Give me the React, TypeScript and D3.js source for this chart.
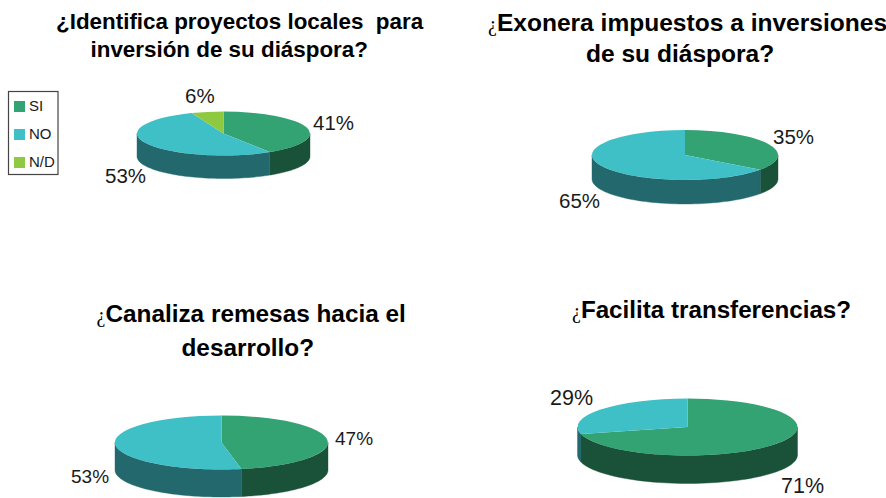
import React from "react";
import * as d3 from "d3";

const categories = ["SI", "NO", "N/D"];

const valuesA = [41, 53, 6];
const valuesB = [35, 65];
const valuesC = [47, 53];
const valuesD = [71, 29];

const titleA = ["¿Identifica proyectos locales  para", "inversión de su diáspora?"];
const titleB = ["¿Exonera impuestos a inversiones", "de su diáspora?"];
const titleC = ["¿Canaliza remesas hacia el", "desarrollo?"];
const titleD = ["¿Facilita transferencias?"];

const topColors = ["#33A374", "#3FC0C6", "#8FC942"];
const sideColors = ["#195238", "#22686C", "#4A6E20"];

const charts = [
  {
    values: valuesA, title: titleA, cx: 223.5, cy: 133.5, rx: 86.5, ry: 22, depth: 23,
    labelSize: 20.5, labelPos: [[313, 130], [105, 183], [185, 103]],
    titleSize: 22.4, titlePos: [[56, 29], [90.5, 56.5]], boldQuestion: true,
  },
  {
    values: valuesB, title: titleB, cx: 685, cy: 155, rx: 93, ry: 25, depth: 24,
    labelSize: 20.5, labelPos: [[773, 144], [559, 208]],
    titleSize: 24.55, titlePos: [[488, 31], [586, 62]], boldQuestion: false,
  },
  {
    values: valuesC, title: titleC, cx: 221.5, cy: 442.5, rx: 106.5, ry: 27, depth: 27.5,
    labelSize: 19, labelPos: [[335, 445], [71, 483]],
    titleSize: 24.35, titlePos: [[96.5, 322], [181.5, 356]], boldQuestion: false,
  },
  {
    values: valuesD, title: titleD, cx: 687.5, cy: 427, rx: 110, ry: 28.5, depth: 28,
    labelSize: 21.5, labelPos: [[781, 493.4], [550, 405]],
    titleSize: 24.2, titlePos: [[572, 317.5]], boldQuestion: false,
  },
];

const FONT = "'Liberation Sans', Arial, sans-serif";
const pieGen = d3.pie<number>().sort(null).value((d) => d);

function sidePath(a0: number, a1: number, c: (typeof charts)[number]) {
  // visible wall: the part of the slice on the front half of the ellipse
  const lo = Math.max(a0, Math.PI / 2);
  const hi = Math.min(a1, (3 * Math.PI) / 2);
  if (hi <= lo) return null;
  const steps = d3.range(0, 61).map((i) => lo + ((hi - lo) * i) / 60);
  const pt = (a: number, dy: number): [number, number] => [
    c.cx + c.rx * Math.sin(a),
    c.cy - c.ry * Math.cos(a) + dy,
  ];
  const pts = [...steps.map((a) => pt(a, 0)), ...steps.slice().reverse().map((a) => pt(a, c.depth))];
  return d3.line()(pts) + "Z";
}

function Pie({ c }: { c: (typeof charts)[number] }) {
  const arcs = pieGen(c.values);
  const arc = d3.arc<d3.PieArcDatum<number>>().innerRadius(0).outerRadius(1);
  return (
    <g>
      {arcs.map((a, i) => {
        const d = sidePath(a.startAngle, a.endAngle, c);
        return d ? <path key={i} d={d} fill={sideColors[i]} stroke={sideColors[i]} strokeWidth={0.4} /> : null;
      })}
      <g transform={`translate(${c.cx},${c.cy}) scale(${c.rx},${c.ry})`}>
        {arcs.map((a, i) => (
          <path key={i} d={arc(a) ?? ""} fill={topColors[i]} />
        ))}
      </g>
      {c.values.map((v, i) => (
        <text key={i} x={c.labelPos[i][0]} y={c.labelPos[i][1]} fontSize={c.labelSize} fill="#1a1a1a" fontFamily={FONT}>
          {`${v}%`}
        </text>
      ))}
      {c.title.map((line, i) => {
        const hasQ = line.startsWith("¿");
        return (
          <text key={i} x={c.titlePos[i][0]} y={c.titlePos[i][1]} fontSize={c.titleSize} fontWeight="bold" fill="#000" fontFamily={FONT} style={{ whiteSpace: "pre" }}>
            {hasQ && (
              <tspan
                fontFamily={c.boldQuestion ? FONT : "'Liberation Serif', serif"}
                fontWeight={c.boldQuestion ? "bold" : "normal"}
                fontSize={c.boldQuestion ? c.titleSize : 20}
              >
                ¿
              </tspan>
            )}
            {hasQ ? line.slice(1) : line}
          </text>
        );
      })}
    </g>
  );
}

export default function App() {
  return (
    <svg
      width={886}
      height={498}
      viewBox="0 0 886 498"
      style={{ position: "fixed", left: 0, top: 0, background: "#fff" }}
    >
      {charts.map((c, i) => (
        <Pie key={i} c={c} />
      ))}
      <rect x={8.5} y={91.5} width={49.5} height={83} fill="#fff" stroke="#444" strokeWidth={1.2} />
      {categories.map((name, i) => (
        <g key={name} transform={`translate(14,${101 + i * 28})`}>
          <rect width={11} height={11} fill={topColors[i]} />
          <text x={15} y={9.5} fontSize={15} fill="#1a1a1a" fontFamily={FONT}>
            {name}
          </text>
        </g>
      ))}
    </svg>
  );
}
